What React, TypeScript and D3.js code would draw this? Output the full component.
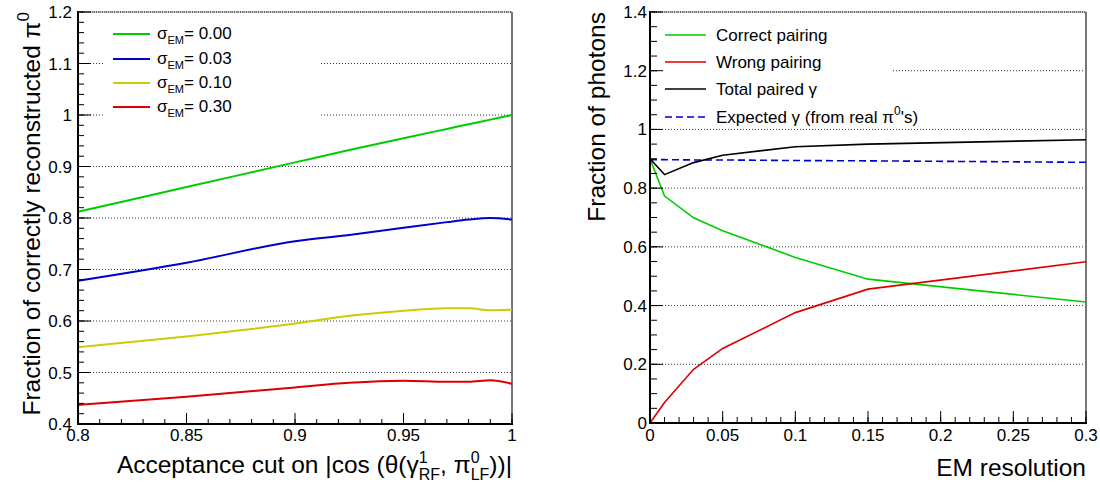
import React from "react";
import * as d3 from "d3";

// ---------- Left panel data ----------
const accCut = [0.8, 0.85, 0.9, 0.925, 0.95, 0.97, 0.98, 0.99, 1.0];
const sig000 = [0.812, 0.86, 0.908, 0.932, 0.955, 0.973, 0.982, 0.991, 1.0];
const sig003 = [0.678, 0.713, 0.755, 0.767, 0.781, 0.792, 0.797, 0.8, 0.797];
const sig010 = [0.549, 0.57, 0.595, 0.61, 0.62, 0.625, 0.625, 0.621, 0.622];
const sig030 = [0.437, 0.453, 0.471, 0.48, 0.484, 0.482, 0.482, 0.485, 0.478];
const leftLegend = ["0.00", "0.03", "0.10", "0.30"];
const leftXTicks = [0.8, 0.85, 0.9, 0.95, 1];
const leftYTicks = [0.4, 0.5, 0.6, 0.7, 0.8, 0.9, 1, 1.1, 1.2];

// ---------- Right panel data ----------
const emRes = [0, 0.01, 0.03, 0.05, 0.1, 0.15, 0.3];
const correctPair = [0.9, 0.773, 0.699, 0.655, 0.564, 0.49, 0.412];
const wrongPair = [0.0, 0.07, 0.183, 0.254, 0.376, 0.456, 0.549];
const totalPair = [0.9, 0.846, 0.887, 0.912, 0.941, 0.95, 0.965];
const expectedG = [0.897, 0.897, 0.896, 0.896, 0.894, 0.893, 0.888];
const rightXTicks = [0, 0.05, 0.1, 0.15, 0.2, 0.25, 0.3];
const rightYTicks = [0, 0.2, 0.4, 0.6, 0.8, 1, 1.2, 1.4];

const FONT = "'Liberation Sans', Arial, Helvetica, sans-serif";
const GREEN = "#00cc00";
const BLUE = "#0000cc";
const YELLOW = "#cccc00";
const RED = "#dd0000";
const BLACK = "#000000";

function fmt(v: number) {
  const s = d3.format(".2~f")(v);
  return s;
}

function Panel(props: {
  x: d3.ScaleLinear<number, number>;
  y: d3.ScaleLinear<number, number>;
  xTicks: number[];
  yTicks: number[];
  xMinor: number;
  yMinor: number;
  yLabelRight: number;
  yMajLen: number;
  yMinLen: number;
  xMajLen: number;
  xMinLen: number;
  legendBox: [number, number, number, number];
  children?: React.ReactNode;
  legend?: React.ReactNode;
}) {
  const { x, y } = props;
  const [x0, x1] = x.range();
  const [y0, y1] = y.range();
  const xd = x.domain();
  const yd = y.domain();
  const xMinors = d3.range(Math.round((xd[1] - xd[0]) / props.xMinor) + 1).map((i) => xd[0] + i * props.xMinor);
  const yMinors = d3.range(Math.round((yd[1] - yd[0]) / props.yMinor) + 1).map((i) => yd[0] + i * props.yMinor);
  const [lbx, lby, lbw, lbh] = props.legendBox;
  return (
    <g>
      {/* grid */}
      {props.yTicks.map((t) => (
        <line key={"g" + t} x1={x0} x2={x1} y1={y(t)} y2={y(t)} stroke="#333" strokeWidth={1} strokeDasharray="1,2" />
      ))}
      {/* top border */}
      <line x1={x0} x2={x1} y1={y1} y2={y1} stroke="#aaa" strokeWidth={1} />
      <line x1={x0} x2={x1} y1={y1} y2={y1} stroke="#222" strokeWidth={1.2} strokeDasharray="1,1" />
      {/* right border */}
      <line x1={x1} x2={x1} y1={y1} y2={y0} stroke="#777" strokeWidth={2} />
      {/* legend background */}
      <rect x={lbx} y={lby} width={lbw} height={lbh} fill="#fff" />
      {props.children}
      {/* y ticks */}
      {yMinors.map((t, i) => (
        <line key={"ym" + i} x1={x0} x2={x0 + props.yMinLen} y1={y(t)} y2={y(t)} stroke="#000" strokeWidth={1} />
      ))}
      {props.yTicks.map((t) => (
        <line key={"yM" + t} x1={x0} x2={x0 + props.yMajLen} y1={y(t)} y2={y(t)} stroke="#000" strokeWidth={1} />
      ))}
      {/* x ticks */}
      {xMinors.map((t, i) => (
        <line key={"xm" + i} x1={x(t)} x2={x(t)} y1={y0} y2={y0 - props.xMinLen} stroke="#000" strokeWidth={1} />
      ))}
      {props.xTicks.map((t) => (
        <line key={"xM" + t} x1={x(t)} x2={x(t)} y1={y0} y2={y0 - props.xMajLen} stroke="#000" strokeWidth={1} />
      ))}
      {/* axes */}
      <line x1={x0} x2={x0} y1={y1 - 1} y2={y0 + 1} stroke="#000" strokeWidth={2} />
      <line x1={x0 - 1} x2={x1 + 1} y1={y0} y2={y0} stroke="#000" strokeWidth={2} />
      {/* tick labels */}
      {props.yTicks.map((t) => (
        <text key={"yl" + t} x={props.yLabelRight} y={y(t) + 6} textAnchor="end" fontSize={17} fontFamily={FONT} fill="#000">
          {fmt(t)}
        </text>
      ))}
      {props.xTicks.map((t) => (
        <text key={"xl" + t} x={x(t)} y={441} textAnchor="middle" fontSize={17} fontFamily={FONT} fill="#000">
          {fmt(t)}
        </text>
      ))}
      {props.legend}
    </g>
  );
}

export default function App() {
  // Left scales
  const xL = d3.scaleLinear().domain([0.8, 1]).range([78, 512]);
  const yL = d3.scaleLinear().domain([0.4, 1.2]).range([424, 12]);
  // Right scales
  const xR = d3.scaleLinear().domain([0, 0.3]).range([650, 1086]);
  const yR = d3.scaleLinear().domain([0, 1.4]).range([423, 12]);

  const lineL = (vals: number[]) =>
    d3
      .line<number>()
      .x((_, i) => xL(accCut[i]))
      .y((v) => yL(v))
      .curve(d3.curveMonotoneX)(vals) || "";
  const lineR = (vals: number[]) =>
    d3
      .line<number>()
      .x((_, i) => xR(emRes[i]))
      .y((v) => yR(v))(vals) || "";

  const leftSeries = [
    { vals: sig000, color: GREEN },
    { vals: sig003, color: BLUE },
    { vals: sig010, color: YELLOW },
    { vals: sig030, color: RED },
  ];
  const leftLegendY = [34, 59, 83, 107];

  const rightSeries = [
    { vals: expectedG, color: BLUE, dash: "7,4", w: 1.6 },
    { vals: correctPair, color: GREEN, dash: undefined, w: 1.6 },
    { vals: wrongPair, color: RED, dash: undefined, w: 1.6 },
    { vals: totalPair, color: BLACK, dash: undefined, w: 1.6 },
  ];
  const rightLegendY = [35, 62, 89, 117];

  return (
    <svg width={1100} height={485} style={{ position: "absolute", left: 0, top: 0, background: "#fff" }}>
      <rect x={0} y={0} width={1100} height={485} fill="#fff" />
      {/* ---------- LEFT PANEL ---------- */}
      <Panel
        x={xL}
        y={yL}
        xTicks={leftXTicks}
        yTicks={leftYTicks}
        xMinor={0.01}
        yMinor={0.02}
        yLabelRight={72}
        yMajLen={13}
        yMinLen={6}
        xMajLen={11}
        xMinLen={5}
        legendBox={[105, 18, 215, 104]}
        legend={
          <g>
            {leftSeries.map((s, i) => (
              <g key={"ll" + i}>
                <line x1={113} x2={150} y1={leftLegendY[i]} y2={leftLegendY[i]} stroke={s.color} strokeWidth={1.8} />
                <text x={157} y={leftLegendY[i] + 5} fontSize={17} fontFamily={FONT} fill="#000">
                  σ
                  <tspan fontSize={11} dy={5}>EM</tspan>
                  <tspan dy={-5}>= {leftLegend[i]}</tspan>
                </text>
              </g>
            ))}
          </g>
        }
      >
        {leftSeries.map((s, i) => (
          <path key={"lp" + i} d={lineL(s.vals)} fill="none" stroke={s.color} strokeWidth={2} />
        ))}
      </Panel>
      {/* left axis titles */}
      <text
        transform="translate(40,12) rotate(-90)"
        textAnchor="end"
        fontSize={24.5}
        fontFamily={FONT}
        fill="#000"
      >
        Fraction of correctly reconstructed π
        <tspan fontSize={17} dy={-11}>0</tspan>
      </text>
      <text x={512} y={473} textAnchor="end" fontSize={24.5} fontFamily={FONT} fill="#000">
        Acceptance cut on |cos (θ(γ
        <tspan fontSize={16} dy={-10}>1</tspan>
        <tspan fontSize={16} dx={-8.9} dy={17}>RF</tspan>
        <tspan dy={-7}>, π</tspan>
        <tspan fontSize={16} dy={-10}>0</tspan>
        <tspan fontSize={16} dx={-8.9} dy={17}>LF</tspan>
        <tspan dy={-7}>))|</tspan>
      </text>

      {/* ---------- RIGHT PANEL ---------- */}
      <Panel
        x={xR}
        y={yR}
        xTicks={rightXTicks}
        yTicks={rightYTicks}
        xMinor={0.01}
        yMinor={0.05}
        yLabelRight={647}
        yMajLen={13}
        yMinLen={7}
        xMajLen={12}
        xMinLen={6}
        legendBox={[657, 18, 236, 107]}
        legend={
          <g>
            {rightSeries.slice(1).concat(rightSeries.slice(0, 1)).map((s, i) => (
              <line
                key={"rl" + i}
                x1={665}
                x2={706}
                y1={rightLegendY[i]}
                y2={rightLegendY[i]}
                stroke={s.color}
                strokeWidth={1.6}
                strokeDasharray={s.dash}
              />
            ))}
            <text x={716} y={rightLegendY[0] + 6} fontSize={17} fontFamily={FONT} fill="#000">Correct pairing</text>
            <text x={716} y={rightLegendY[1] + 6} fontSize={17} fontFamily={FONT} fill="#000">Wrong pairing</text>
            <text x={716} y={rightLegendY[2] + 6} fontSize={17} fontFamily={FONT} fill="#000">Total paired γ</text>
            <text x={716} y={rightLegendY[3] + 6} fontSize={17} fontFamily={FONT} fill="#000">
              Expected γ (from real π<tspan fontSize={12} dy={-8}>0</tspan>
              <tspan dy={8}>'s)</tspan>
            </text>
          </g>
        }
      >
        {rightSeries.map((s, i) => (
          <path
            key={"rp" + i}
            d={lineR(s.vals)}
            fill="none"
            stroke={s.color}
            strokeWidth={s.w}
            strokeDasharray={s.dash}
          />
        ))}
      </Panel>
      <text
        transform="translate(605,12) rotate(-90)"
        textAnchor="end"
        fontSize={24.5}
        fontFamily={FONT}
        fill="#000"
      >
        Fraction of photons
      </text>
      <text x={1086} y={476} textAnchor="end" fontSize={24.5} fontFamily={FONT} fill="#000">
        EM resolution
      </text>
    </svg>
  );
}
